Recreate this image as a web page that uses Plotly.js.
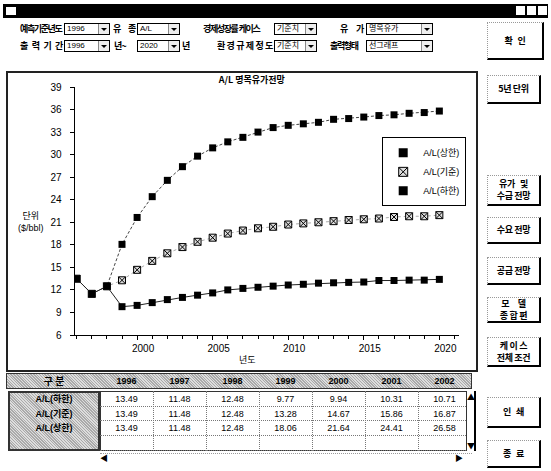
<!DOCTYPE html>
<html><head><meta charset="utf-8">
<script src="https://cdn.plot.ly/plotly-3.0.1.min.js"></script>
<style>
body{margin:0;background:#fff;font-family:'Noto Sans CJK KR',sans-serif;}
#app{position:relative;width:551px;height:471px;overflow:hidden;background:#fff;}
.lbl{position:absolute;font-size:9px;font-weight:bold;line-height:12px;white-space:nowrap;color:#000;letter-spacing:-1.4px;}
.j{text-align:justify;text-align-last:justify;white-space:normal;height:12px;overflow:visible;}
.combo{position:absolute;height:12px;border:1px solid #000;background:#fff;font-family:'Liberation Sans','Noto Sans CJK KR',sans-serif;font-size:8px;line-height:10px;padding-left:2px;box-sizing:border-box;white-space:nowrap;overflow:hidden;}
.combo .arr{position:absolute;right:0;top:0;width:10px;height:10px;border-left:1px solid #888;background:#eee;}
.combo .arr:after{content:"";position:absolute;left:2px;top:4px;border-left:3px solid transparent;border-right:3px solid transparent;border-top:3px solid #000;}
.btn{position:absolute;box-sizing:border-box;border-right:2px solid #000;border-bottom:2px solid #000;border-top:1px dotted #999;border-left:1px dotted #999;font-size:9px;font-weight:bold;text-align:center;display:flex;align-items:center;justify-content:center;line-height:12px;background:#fff;letter-spacing:-0.3px;}
#frame{position:absolute;left:6px;top:71px;width:468px;height:297px;border:2px solid #222;}
.cell{position:absolute;font-family:'Liberation Sans',sans-serif;font-size:9px;line-height:14px;text-align:center;}
</style></head>
<body><div id="app">
<div style="position:absolute;left:3px;top:4px;width:545px;height:14px;background:#000;"></div>
<div style="position:absolute;left:6px;top:7px;width:10px;height:8px;background:#fff;"></div>
<div style="position:absolute;left:516px;top:6px;width:9px;height:9px;background:#fff;"></div>
<div style="position:absolute;left:527px;top:6px;width:9px;height:9px;background:#fff;"></div>
<div style="position:absolute;left:538px;top:6px;width:9px;height:9px;background:#fff;"></div>

<div class="lbl" style="left:20px;top:23px;">예측기준년도</div>
<div class="combo" style="left:64px;top:23px;width:46px;">1996<span class="arr"></span></div>
<div class="lbl j" style="left:113px;top:23px;width:22px;">유 종</div>
<div class="combo" style="left:137px;top:23px;width:43px;">A/L<span class="arr"></span></div>
<div class="lbl" style="left:203px;top:23px;">경제성장률&nbsp;&nbsp;케이스</div>
<div class="combo" style="left:274px;top:23px;width:43px;">기준치<span class="arr"></span></div>
<div class="lbl j" style="left:340px;top:23px;width:23px;">유 가</div>
<div class="combo" style="left:366px;top:23px;width:67px;">명목유가<span class="arr"></span></div>

<div class="lbl j" style="left:20px;top:40px;width:42px;">출 력 기 간</div>
<div class="combo" style="left:64px;top:40px;width:46px;">1996<span class="arr"></span></div>
<div class="lbl" style="left:114px;top:40px;">년&nbsp;~</div>
<div class="combo" style="left:137px;top:40px;width:43px;">2020<span class="arr"></span></div>
<div class="lbl" style="left:182px;top:40px;">년</div>
<div class="lbl j" style="left:217px;top:40px;width:55px;">환 경 규 제 정 도</div>
<div class="combo" style="left:274px;top:40px;width:43px;">기준치<span class="arr"></span></div>
<div class="lbl" style="left:330px;top:40px;">출력형태</div>
<div class="combo" style="left:366px;top:40px;width:67px;">선그래프<span class="arr"></span></div>

<div class="btn" style="left:487px;top:22px;width:57px;height:38px;">확&nbsp;&nbsp;&nbsp;인</div>
<div class="btn" style="left:487px;top:75px;width:54px;height:29px;">5년 단위</div>
<div class="btn" style="left:487px;top:175px;width:54px;height:31px;">유가&nbsp;&nbsp;&nbsp;및<br>수급 전망</div>
<div class="btn" style="left:487px;top:217px;width:54px;height:27px;">수요 전망</div>
<div class="btn" style="left:487px;top:257px;width:54px;height:28px;">공급 전망</div>
<div class="btn" style="left:487px;top:297px;width:54px;height:26px;">모&nbsp;&nbsp;&nbsp;&nbsp;&nbsp;델<br>종 합 편</div>
<div class="btn" style="left:487px;top:337px;width:54px;height:30px;">케 이 스<br>전체 조건</div>
<div class="btn" style="left:487px;top:397px;width:54px;height:31px;">인&nbsp;&nbsp;&nbsp;쇄</div>
<div class="btn" style="left:487px;top:440px;width:54px;height:28px;">종&nbsp;&nbsp;&nbsp;료</div>

<div id="frame"><div id="chart"></div></div>

<div id="table"></div>
</div>
<script>
// ---- data ----
var years = [1996,1997,1998,1999,2000,2001,2002,2003,2004,2005,2006,2007,2008,2009,2010,2011,2012,2013,2014,2015,2016,2017,2018,2019,2020];
var upperName = 'A/L(상한)';
var baseName  = 'A/L(기준)';
var lowerName = 'A/L(하한)';
var upperVals = [13.49,11.48,12.48,18.06,21.64,24.41,26.58,28.4,29.8,30.9,31.7,32.3,33.0,33.6,33.9,34.1,34.3,34.7,34.8,35.0,35.2,35.3,35.5,35.6,35.8];
var baseVals  = [13.49,11.48,12.48,13.28,14.67,15.86,16.87,17.7,18.4,18.95,19.5,19.9,20.2,20.4,20.7,20.85,21.0,21.15,21.3,21.4,21.5,21.7,21.8,21.8,21.95];
var lowerVals = [13.49,11.48,12.48,9.77,9.94,10.31,10.71,11.0,11.3,11.6,12.0,12.2,12.35,12.5,12.65,12.75,12.9,12.95,13.0,13.05,13.25,13.25,13.3,13.3,13.4];
var chartTitle = 'A/L 명목유가전망';
var yTitle = '단위<br>($/bbl)';
var xTitle = '년도';
var tableCorner = '구 분';
var tableYears = years.slice(0,7);

var FONT = 'Liberation Sans, Noto Sans CJK KR, sans-serif';
var traces = [
  {x:years, y:upperVals, name:upperName, mode:'lines+markers', showlegend:false,
   line:{color:'#444', width:1, dash:'3px,2px'}, marker:{symbol:'square', size:7, color:'#000'}},
  {x:years, y:baseVals, name:baseName, mode:'lines+markers', showlegend:false,
   line:{color:'#aaa', width:1, dash:'dot'}, marker:{symbol:'square-x', size:7, color:'#ddd', line:{color:'#000', width:1}}},
  {x:years, y:lowerVals, name:lowerName, mode:'lines+markers', showlegend:false,
   line:{color:'#222', width:1}, marker:{symbol:'square', size:7, color:'#000'}},
  {x:[null], y:[null], name:upperName, mode:'markers', marker:{symbol:'square', size:9, color:'#000'}},
  {x:[null], y:[null], name:baseName, mode:'markers', marker:{symbol:'square-x', size:9, color:'#ddd', line:{color:'#000', width:1}}},
  {x:[null], y:[null], name:lowerName, mode:'markers', marker:{symbol:'square', size:9, color:'#000'}}
];
var layout = {
  width:468, height:297,
  margin:{l:67, r:10, t:14, b:35},
  paper_bgcolor:'#fff', plot_bgcolor:'#fff',
  font:{family:FONT, size:10, color:'#000'},
  title:{text:'<b>'+chartTitle+'</b>', font:{size:9, family:'Noto Sans CJK KR, sans-serif'}, xref:'container', x:0.521, xanchor:'center', yref:'container', y:0.988, yanchor:'top'},
  xaxis:{range:[1995.89, 2021.3], showgrid:false, zeroline:false, showline:true, linecolor:'#000', linewidth:1,
         tick0:2000, dtick:5, ticks:'outside', ticklen:4, tickcolor:'#000', ticklabelshift:6,
         minor:{dtick:1, ticks:'outside', ticklen:3, tickcolor:'#000'}, tickfont:{size:10}},
  yaxis:{range:[6,39], showgrid:false, zeroline:false, showline:true, linecolor:'#000', linewidth:1.5,
         tick0:6, dtick:3, ticks:'outside', ticklen:4, tickcolor:'#000', ticklabelstandoff:6, tickfont:{size:10}},
  showlegend:true,
  legend:{x:0.80, y:0.797, xanchor:'left', yanchor:'top', bgcolor:'#fff', bordercolor:'#000', borderwidth:1,
          font:{size:9, family:'Liberation Sans, Noto Sans CJK KR, sans-serif'}, itemwidth:30, tracegroupgap:2},
  annotations:[
    {text:yTitle, xref:'paper', yref:'paper', x:0, xanchor:'right', xshift:-29, y:0.455, yanchor:'middle', showarrow:false, font:{size:9}, align:'center'},
    {text:xTitle, xref:'paper', yref:'paper', x:0.448, xanchor:'center', y:-0.1, yanchor:'middle', showarrow:false, font:{size:9, family:'Noto Sans CJK KR, sans-serif'}}
  ]
};
Plotly.newPlot('chart', traces, layout, {staticPlot:true, displayModeBar:false});

// ---- table ----
var tbl = document.getElementById('table');
function box(l,t,w,h,style,html,cls){
  var d=document.createElement('div');
  d.className = cls||'';
  d.style.cssText='position:absolute;left:'+l+'px;top:'+t+'px;width:'+w+'px;height:'+h+'px;'+(style||'');
  if(html!==undefined) d.innerHTML=html;
  tbl.appendChild(d); return d;
}
var gray='background:repeating-linear-gradient(45deg,#aaa 0 1px,#ddd 1px 2px);';
box(6,373,466,16,gray+'border:1px solid #333;box-sizing:border-box;');
box(8,373,92,16,'font-size:10px;font-weight:bold;line-height:16px;text-align:center;font-family:Noto Sans CJK KR;',tableCorner);
box(8,391,92,60,gray+'border:2px solid #333;box-sizing:border-box;');
box(100,391,370,60,'background:#fff;border:1px solid #333;box-sizing:border-box;');
var colL=100, colW=53;
tableYears.forEach(function(yr,i){
  box(colL+i*colW,373,colW,16,'line-height:16px;font-weight:bold;','<b>'+yr+'</b>','cell');
  if(i>0) box(colL+i*colW,391,0,60,'border-left:1px dotted #777;');
});
var rowNames=[lowerName,baseName,upperName], rowVals=[lowerVals,baseVals,upperVals];
for(var r=0;r<4;r++){
  box(100,391+(r+1)*14.7,370,0,'border-top:1px dotted #777;');
}
rowNames.forEach(function(nm,r){
  var t=392+r*14.7;
  box(8,t,92,14,'font-size:9px;font-weight:bold;line-height:14px;text-align:center;font-family:Liberation Sans,Noto Sans CJK KR;',nm);
  tableYears.forEach(function(yr,i){
    box(colL+i*colW,t,colW,14,'',rowVals[r][i].toFixed(2),'cell');
  });
});
// scrollbars
box(466,391,10,60,'background:#fff;border-left:1px solid #333;border-right:2px solid #000;box-sizing:border-box;');
box(467,392,8,9,'font-size:8px;line-height:9px;text-align:center;','▲');
box(467,441,8,9,'font-size:8px;line-height:9px;text-align:center;','▼');
box(100,453,372,10,'border-top:1px dotted #999;');
box(100,453,8,10,'font-size:8px;line-height:10px;','◀');
box(455,453,8,10,'font-size:8px;line-height:10px;','▶');
</script>
</body></html>
